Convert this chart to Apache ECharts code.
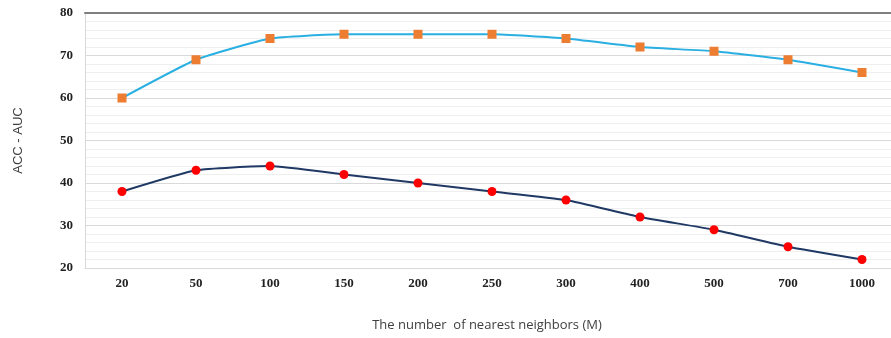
<!DOCTYPE html>
<html><head><meta charset="utf-8">
<script src="https://cdn.jsdelivr.net/npm/echarts@6/dist/echarts.min.js"></script>
<style>html,body{margin:0;padding:0;background:#fff;overflow:hidden}#c{width:899px;height:338px}</style>
</head><body><div id="c"></div>
<script>
const categories = ['20','50','100','150','200','250','300','400','500','700','1000'];
const upperValues = [60, 69, 74, 75, 75, 75, 74, 72, 71, 69, 66];
const lowerValues = [38, 43, 44, 42, 40, 38, 36, 32, 29, 25, 22];
const yMin = 20, yMax = 80, yStep = 10;

const chart = echarts.init(document.getElementById('c'));
chart.setOption({
  animation: false,
  backgroundColor: '#ffffff',
  grid: {left: 85, right: 0, top: 13, bottom: 70},
  xAxis: [{
    type: 'category', data: categories, boundaryGap: true,
    axisLine: {show: true, lineStyle: {color: '#d9d9d9', width: 1}},
    axisTick: {show: false},
    axisLabel: {margin: 9, fontFamily: 'Liberation Serif', fontWeight: 'bold', fontSize: 13, color: '#222'},
    name: 'The number  of nearest neighbors (M)', nameLocation: 'middle', nameGap: 51,
    nameTextStyle: {fontFamily: 'Open Sans', fontSize: 13, color: '#404040', padding: [0, 10, 0, 0]}
  }, {
    type: 'category', data: categories, position: 'top',
    axisLine: {show: true, lineStyle: {color: '#7f7f7f', width: 2}},
    axisTick: {show: false}, axisLabel: {show: false}
  }],
  yAxis: {
    type: 'value', min: yMin, max: yMax, interval: yStep,
    axisLine: {show: true, lineStyle: {color: '#d9d9d9'}},
    axisTick: {show: false},
    axisLabel: {margin: 12, fontFamily: 'Liberation Serif', fontWeight: 'bold', fontSize: 13, color: '#222'},
    splitLine: {show: true, lineStyle: {color: '#d9d9d9'}},
    minorTick: {show: false, splitNumber: 5},
    minorSplitLine: {show: true, lineStyle: {color: '#efefef'}},
    name: 'ACC - AUC', nameLocation: 'middle', nameGap: 60,
    nameTextStyle: {fontFamily: 'Liberation Sans', fontSize: 13, color: '#404040'}
  },
  series: [{
    type: 'line', data: upperValues, smooth: 0.15,
    symbol: 'rect', symbolSize: 9,
    lineStyle: {color: '#2aafe2', width: 2},
    itemStyle: {color: '#ed7d31'}
  }, {
    type: 'line', data: lowerValues, smooth: 0.15,
    symbol: 'circle', symbolSize: 9,
    lineStyle: {color: '#1f3864', width: 2},
    itemStyle: {color: '#ff0000'}
  }]
});
</script></body></html>
